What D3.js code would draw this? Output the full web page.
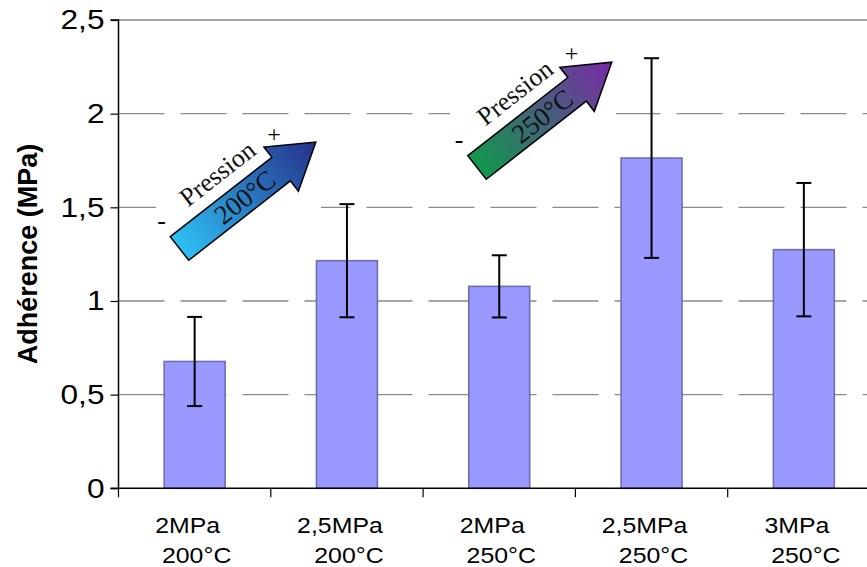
<!DOCTYPE html>
<html>
<head>
<meta charset="utf-8">
<script src="https://cdn.jsdelivr.net/npm/d3@7"></script>
<style>
  html, body { margin: 0; padding: 0; background: #fff; }
  svg { display: block; }
</style>
</head>
<body>
<svg id="chart" width="867" height="567"></svg>
<script>
// ---- data ----
const pressures = ["2MPa", "2,5MPa", "2MPa", "2,5MPa", "3MPa"];
const temperatures = ["200°C", "200°C", "250°C", "250°C", "250°C"];
const values = [0.677, 1.215, 1.078, 1.763, 1.274];
const errors = [0.238, 0.302, 0.166, 0.533, 0.356];
const yTicks = [0, 0.5, 1, 1.5, 2, 2.5];
const yTickLabels = ["0", "0,5", "1", "1,5", "2", "2,5"];
const yTitle = "Adhérence (MPa)";
const arrowLabels = [
  { top: "Pression", inner: "200°C", c0: "#2ec0f4", c1: "#25308a" },
  { top: "Pression", inner: "250°C", c0: "#11974c", c1: "#7a2aa8" }
];

(function () {
const svg = d3.select("#chart");
const W = 867, H = 567;
const pL = 118.5, pR = 880, pT = 20, pB = 488.3;
const sx = 1.13; // horizontal stretch of the original rendering

const idx = d3.range(values.length);
const x = d3.scaleBand().domain(idx).range([pL, pR]).paddingInner(0.6).paddingOuter(0.3);
const y = d3.scaleLinear().domain([0, 2.5]).range([pB, pT]);

const sans = "'Liberation Sans', Arial, sans-serif";
const serif = "'Liberation Serif', 'Times New Roman', serif";

// gridlines
const grid = svg.append("g");
grid.selectAll("line").data(yTicks.filter(d => d > 0)).join("line")
  .attr("x1", pL).attr("x2", W)
  .attr("y1", d => y(d)).attr("y2", d => y(d))
  .attr("stroke", "#8a8a8a").attr("stroke-width", 1.3)
  .attr("stroke-dasharray", d => d === 2.5 ? null : "46,16");

// white backgrounds of the arrow pictures
svg.append("rect").attr("x", 156).attr("y", 122).attr("width", 165).attr("height", 146).attr("fill", "#fff");
svg.append("rect").attr("x", 450).attr("y", 34).attr("width", 166).attr("height", 152).attr("fill", "#fff");

// bars
svg.append("g").selectAll("rect").data(idx).join("rect")
  .attr("x", i => x(i)).attr("width", x.bandwidth())
  .attr("y", i => y(values[i])).attr("height", i => y(0) - y(values[i]))
  .attr("fill", "#9999ff").attr("stroke", "#6d6db0").attr("stroke-width", 1.6);

// error bars
const eb = svg.append("g").attr("stroke", "#000").attr("stroke-width", 2);
idx.forEach(i => {
  const cx = x(i) + x.bandwidth() / 2;
  const hi = y(values[i] + errors[i]), lo = y(values[i] - errors[i]);
  eb.append("line").attr("x1", cx).attr("x2", cx).attr("y1", hi).attr("y2", lo);
  eb.append("line").attr("x1", cx - 7.5).attr("x2", cx + 7.5).attr("y1", hi).attr("y2", hi);
  eb.append("line").attr("x1", cx - 7.5).attr("x2", cx + 7.5).attr("y1", lo).attr("y2", lo);
});

// y axis
const yAxis = d3.axisLeft(y).tickValues(yTicks).tickSize(8).tickFormat((d, i) => yTickLabels[i]);
const gy = svg.append("g").attr("transform", `translate(${pL},0)`).call(yAxis);
gy.select(".domain").attr("stroke", "#000").attr("stroke-width", 1.5).attr("d", `M-8,${pT}H0V${pB}`);
gy.selectAll(".tick line").attr("stroke", "#000").attr("stroke-width", 1.2);
gy.selectAll(".tick text").attr("font-family", sans).attr("font-size", 28).attr("fill", "#000")
  .attr("x", -14 / sx).attr("transform", `scale(${sx},1)`);

// x axis
const gx = svg.append("g").attr("transform", `translate(0,${pB})`);
gx.append("line").attr("x1", pL - 8).attr("x2", W).attr("y1", 0).attr("y2", 0).attr("stroke", "#000").attr("stroke-width", 1.5);
const bounds = idx.map(i => x(i) - x.step() * x.paddingInner() / 2);
bounds[0] = pL;
gx.selectAll("line.t").data(bounds).join("line").attr("class", "t")
  .attr("x1", d => d).attr("x2", d => d).attr("y1", 0).attr("y2", 9)
  .attr("stroke", "#000").attr("stroke-width", 1.2);
const lab = gx.selectAll("g.lab").data(idx).join("g").attr("class", "lab")
  .attr("transform", i => `translate(${x(i) + x.bandwidth() / 2},0) scale(${sx},1)`);
lab.append("text").attr("x", -7 / sx).attr("y", 45).attr("text-anchor", "middle")
  .attr("font-family", sans).attr("font-size", 22).text(i => pressures[i]);
lab.append("text").attr("x", 2 / sx).attr("y", 75).attr("text-anchor", "middle")
  .attr("font-family", sans).attr("font-size", 22).text(i => temperatures[i]);

// y title
svg.append("text").attr("transform", `translate(37,254) rotate(-90)`)
  .attr("text-anchor", "middle").attr("font-family", sans).attr("font-size", 27).attr("font-weight", "bold")
  .text(yTitle);

// arrows
const defs = svg.append("defs");
const arrowPos = [
  { tx: 179.5, ty: 248.5, ang: -38, len: 173 },
  { tx: 477, ty: 167.5, ang: -38, len: 171 }
];
arrowLabels.forEach((a, k) => {
  const p = arrowPos[k];
  const gid = "grad" + k;
  const gr = defs.append("linearGradient").attr("id", gid).attr("x1", "0%").attr("x2", "100%").attr("y1", "0%").attr("y2", "0%");
  gr.append("stop").attr("offset", "0%").attr("stop-color", a.c0);
  gr.append("stop").attr("offset", "100%").attr("stop-color", a.c1);
  const g = svg.append("g").attr("transform", `translate(${p.tx},${p.ty}) rotate(${p.ang})`);
  const L = p.len, hl = 44, hw = 28, sw = 15;
  g.append("path")
    .attr("d", `M0,${-sw}L${L - hl},${-sw}L${L - hl},${-hw}L${L},0L${L - hl},${hw}L${L - hl},${sw}L0,${sw}Z`)
    .attr("fill", `url(#${gid})`).attr("stroke", "#000").attr("stroke-width", 1.5).attr("stroke-linejoin", "miter");
  g.append("text").attr("x", 76).attr("y", -27).attr("text-anchor", "middle")
    .attr("font-family", serif).attr("font-size", 26).attr("fill", "#111").text(a.top);
  g.append("text").attr("x", 83).attr("y", 9).attr("text-anchor", "middle")
    .attr("font-family", serif).attr("font-size", 27).attr("fill", "#111").text(a.inner);
  g.append("text").attr("transform", `translate(3,-33) rotate(${-p.ang})`).attr("text-anchor", "middle")
    .attr("dominant-baseline", "central").attr("font-family", serif).attr("font-size", 26).text("-");
  g.append("text").attr("transform", `translate(145,-32) rotate(${-p.ang})`).attr("text-anchor", "middle")
    .attr("dominant-baseline", "central").attr("font-family", serif).attr("font-size", 24).text("+");
});
})();
</script>
</body>
</html>
